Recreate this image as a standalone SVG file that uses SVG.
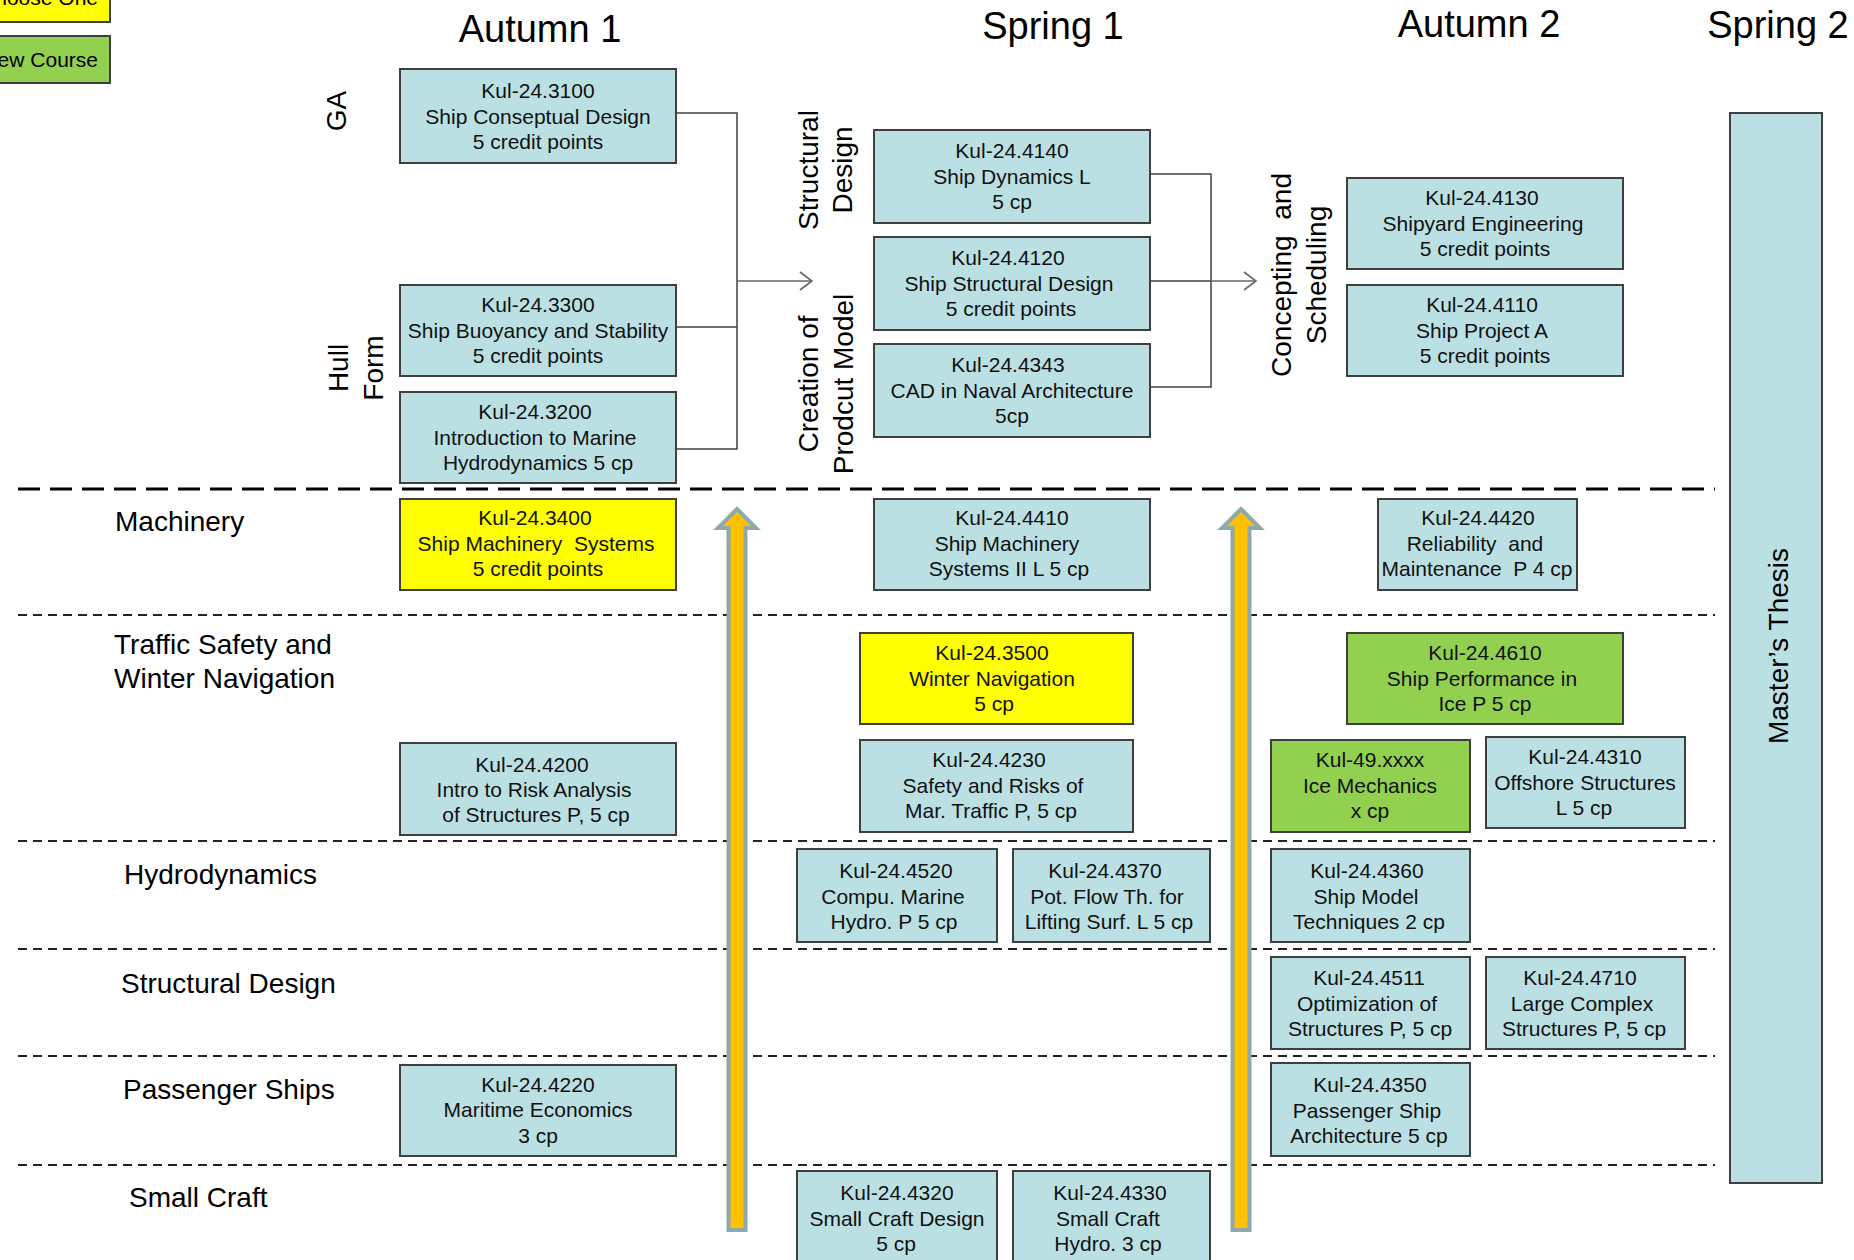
<svg xmlns="http://www.w3.org/2000/svg" width="1854" height="1260" viewBox="0 0 1854 1260">
<style>
text{font-family:"Liberation Sans",Arial,Helvetica,sans-serif;fill:#000}
.box{stroke:#3f3f3f;stroke-width:2}
.blue{fill:#BBE0E3}
.yel{fill:#FFFF00}
.grn{fill:#92D050}
.bt{font-size:21px;text-anchor:middle;fill:#111}
.hdr{font-size:38px;text-anchor:middle}
.row{font-size:28px}
.rot{font-size:28px;text-anchor:middle}
.conn{stroke:#404040;stroke-width:1.5;fill:none}
.link{stroke:#666;stroke-width:1.5;fill:none}
.thick{stroke:#000;stroke-width:3;stroke-dasharray:22 10}
.thin{stroke:#222;stroke-width:1.8;stroke-dasharray:9 6}
.bigarrow{fill:#FFC000;stroke:#8EA9AD;stroke-width:4;stroke-linejoin:miter}
</style>
<defs>
<marker id="chev" viewBox="0 0 14 20" refX="13" refY="10" markerWidth="14" markerHeight="20" markerUnits="userSpaceOnUse" orient="auto">
<path d="M1,1 L13,10 L1,19" fill="none" stroke="#666" stroke-width="1.6"/>
</marker>
</defs>
<rect width="1854" height="1260" fill="#fff"/>

<g id="legend">
<g id="legend-choose"><rect class="box yel" x="-4" y="-12" width="114" height="34"/><text x="98" y="5" font-size="21" text-anchor="end">Choose One</text></g>
<g id="legend-new"><rect class="box grn" x="-4" y="36" width="114" height="47"/><text x="98" y="67" font-size="21" text-anchor="end">New Course</text></g>
</g>

<g id="headers">
<text class="hdr" x="540" y="42">Autumn 1</text>
<text class="hdr" x="1053" y="39">Spring 1</text>
<text class="hdr" x="1479" y="37">Autumn 2</text>
<text class="hdr" x="1778" y="38">Spring 2</text>
</g>

<g id="separators">
<line class="thick" x1="18" y1="489" x2="1715" y2="489"/>
<line class="thin" x1="18" y1="615" x2="1715" y2="615"/>
<line class="thin" x1="18" y1="841" x2="1715" y2="841"/>
<line class="thin" x1="18" y1="949" x2="1715" y2="949"/>
<line class="thin" x1="18" y1="1056" x2="1715" y2="1056"/>
<line class="thin" x1="18" y1="1165" x2="1715" y2="1165"/>
</g>

<g id="row-labels">
<text class="row" x="115" y="531">Machinery</text>
<text class="row" x="114" y="654">Traffic Safety and</text>
<text class="row" x="114" y="688">Winter Navigation</text>
<text class="row" x="124" y="884">Hydrodynamics</text>
<text class="row" x="121" y="993">Structural Design</text>
<text class="row" x="123" y="1099">Passenger Ships</text>
<text class="row" x="129" y="1207">Small Craft</text>
</g>

<g id="group-labels">
<text class="rot" transform="translate(346,111) rotate(-90)">GA</text>
<text class="rot" transform="translate(348,368) rotate(-90)">Hull</text>
<text class="rot" transform="translate(383,368) rotate(-90)">Form</text>
<text class="rot" transform="translate(818,170) rotate(-90)">Structural</text>
<text class="rot" transform="translate(852,170) rotate(-90)">Design</text>
<text class="rot" transform="translate(818,384) rotate(-90)">Creation of</text>
<text class="rot" transform="translate(853,384) rotate(-90)">Prodcut Model</text>
<text class="rot" transform="translate(1291,275) rotate(-90)" xml:space="preserve">Concepting  and</text>
<text class="rot" transform="translate(1326,275) rotate(-90)">Scheduling</text>
</g>

<g id="connectors">
<polyline class="conn" points="676,113 737,113 737,449 676,449"/>
<line class="conn" x1="676" y1="327" x2="737" y2="327"/>
<line class="link" x1="737" y1="281" x2="812" y2="281" marker-end="url(#chev)"/>
<polyline class="conn" points="1150,174 1211,174 1211,387 1150,387"/>
<line class="conn" x1="1150" y1="281" x2="1211" y2="281"/>
<line class="link" x1="1211" y1="281" x2="1256" y2="281" marker-end="url(#chev)"/>
</g>

<g id="kul-3100"><rect class="box blue" x="400" y="69" width="276" height="94"/><text class="bt" x="538" y="98">Kul-24.3100</text><text class="bt" x="538" y="124">Ship Conseptual Design</text><text class="bt" x="538" y="149">5 credit points</text></g>
<g id="kul-3300"><rect class="box blue" x="400" y="285" width="276" height="91"/><text class="bt" x="538" y="312">Kul-24.3300</text><text class="bt" x="538" y="338">Ship Buoyancy and Stability</text><text class="bt" x="538" y="363">5 credit points</text></g>
<g id="kul-3200"><rect class="box blue" x="400" y="392" width="276" height="91"/><text class="bt" x="535" y="419">Kul-24.3200</text><text class="bt" x="535" y="445">Introduction to Marine</text><text class="bt" x="538" y="470">Hydrodynamics 5 cp</text></g>
<g id="kul-3400"><rect class="box yel" x="400" y="499" width="276" height="91"/><text class="bt" x="535" y="525">Kul-24.3400</text><text class="bt" x="536" y="551" xml:space="preserve">Ship Machinery  Systems</text><text class="bt" x="538" y="576">5 credit points</text></g>
<g id="kul-4200"><rect class="box blue" x="400" y="743" width="276" height="92"/><text class="bt" x="532" y="772">Kul-24.4200</text><text class="bt" x="534" y="797">Intro to Risk Analysis</text><text class="bt" x="536" y="822">of Structures P, 5 cp</text></g>
<g id="kul-4220"><rect class="box blue" x="400" y="1065" width="276" height="91"/><text class="bt" x="538" y="1092">Kul-24.4220</text><text class="bt" x="538" y="1117">Maritime Economics</text><text class="bt" x="538" y="1143">3 cp</text></g>

<g id="kul-4140"><rect class="box blue" x="874" y="130" width="276" height="93"/><text class="bt" x="1012" y="158">Kul-24.4140</text><text class="bt" x="1012" y="184">Ship Dynamics L</text><text class="bt" x="1012" y="209">5 cp</text></g>
<g id="kul-4120"><rect class="box blue" x="874" y="237" width="276" height="93"/><text class="bt" x="1008" y="265">Kul-24.4120</text><text class="bt" x="1009" y="291">Ship Structural Design</text><text class="bt" x="1011" y="316">5 credit points</text></g>
<g id="kul-4343"><rect class="box blue" x="874" y="344" width="276" height="93"/><text class="bt" x="1008" y="372">Kul-24.4343</text><text class="bt" x="1012" y="398">CAD in Naval Architecture</text><text class="bt" x="1012" y="423">5cp</text></g>
<g id="kul-4410"><rect class="box blue" x="874" y="499" width="276" height="91"/><text class="bt" x="1012" y="525">Kul-24.4410</text><text class="bt" x="1007" y="551">Ship Machinery</text><text class="bt" x="1009" y="576">Systems II L 5 cp</text></g>
<g id="kul-3500"><rect class="box yel" x="860" y="633" width="273" height="91"/><text class="bt" x="992" y="660">Kul-24.3500</text><text class="bt" x="992" y="686">Winter Navigation</text><text class="bt" x="994" y="711">5 cp</text></g>
<g id="kul-4230"><rect class="box blue" x="860" y="740" width="273" height="92"/><text class="bt" x="989" y="767">Kul-24.4230</text><text class="bt" x="993" y="793">Safety and Risks of</text><text class="bt" x="991" y="818">Mar. Traffic P, 5 cp</text></g>
<g id="kul-4520"><rect class="box blue" x="797" y="849" width="200" height="93"/><text class="bt" x="896" y="878">Kul-24.4520</text><text class="bt" x="893" y="904">Compu. Marine</text><text class="bt" x="894" y="929">Hydro. P 5 cp</text></g>
<g id="kul-4370"><rect class="box blue" x="1013" y="849" width="197" height="93"/><text class="bt" x="1105" y="878">Kul-24.4370</text><text class="bt" x="1107" y="904">Pot. Flow Th. for</text><text class="bt" x="1109" y="929">Lifting Surf. L 5 cp</text></g>
<g id="kul-4320"><rect class="box blue" x="797" y="1171" width="200" height="100"/><text class="bt" x="897" y="1200">Kul-24.4320</text><text class="bt" x="897" y="1226">Small Craft Design</text><text class="bt" x="896" y="1251">5 cp</text></g>
<g id="kul-4330"><rect class="box blue" x="1013" y="1171" width="197" height="100"/><text class="bt" x="1110" y="1200">Kul-24.4330</text><text class="bt" x="1108" y="1226">Small Craft</text><text class="bt" x="1108" y="1251">Hydro. 3 cp</text></g>

<g id="kul-4130"><rect class="box blue" x="1347" y="178" width="276" height="91"/><text class="bt" x="1482" y="205">Kul-24.4130</text><text class="bt" x="1483" y="231">Shipyard Engineering</text><text class="bt" x="1485" y="256">5 credit points</text></g>
<g id="kul-4110"><rect class="box blue" x="1347" y="285" width="276" height="91"/><text class="bt" x="1482" y="312">Kul-24.4110</text><text class="bt" x="1482" y="338">Ship Project A</text><text class="bt" x="1485" y="363">5 credit points</text></g>
<g id="kul-4420"><rect class="box blue" x="1378" y="499" width="199" height="91"/><text class="bt" x="1478" y="525">Kul-24.4420</text><text class="bt" x="1475" y="551" xml:space="preserve">Reliability  and</text><text class="bt" x="1477" y="576" xml:space="preserve">Maintenance  P 4 cp</text></g>
<g id="kul-4610"><rect class="box grn" x="1347" y="633" width="276" height="91"/><text class="bt" x="1485" y="660">Kul-24.4610</text><text class="bt" x="1482" y="686">Ship Performance in</text><text class="bt" x="1485" y="711">Ice P 5 cp</text></g>
<g id="kul-49xxxx"><rect class="box grn" x="1271" y="740" width="199" height="92"/><text class="bt" x="1370" y="767">Kul-49.xxxx</text><text class="bt" x="1370" y="793">Ice Mechanics</text><text class="bt" x="1370" y="818">x cp</text></g>
<g id="kul-4310"><rect class="box blue" x="1486" y="737" width="199" height="91"/><text class="bt" x="1585" y="764">Kul-24.4310</text><text class="bt" x="1585" y="790">Offshore Structures</text><text class="bt" x="1584" y="815">L 5 cp</text></g>
<g id="kul-4360"><rect class="box blue" x="1271" y="849" width="199" height="93"/><text class="bt" x="1367" y="878">Kul-24.4360</text><text class="bt" x="1366" y="904">Ship Model</text><text class="bt" x="1369" y="929">Techniques 2 cp</text></g>
<g id="kul-4511"><rect class="box blue" x="1271" y="957" width="199" height="92"/><text class="bt" x="1369" y="985">Kul-24.4511</text><text class="bt" x="1367" y="1011">Optimization of</text><text class="bt" x="1370" y="1036">Structures P, 5 cp</text></g>
<g id="kul-4710"><rect class="box blue" x="1486" y="957" width="199" height="92"/><text class="bt" x="1580" y="985">Kul-24.4710</text><text class="bt" x="1582" y="1011">Large Complex</text><text class="bt" x="1584" y="1036">Structures P, 5 cp</text></g>
<g id="kul-4350"><rect class="box blue" x="1271" y="1063" width="199" height="93"/><text class="bt" x="1370" y="1092">Kul-24.4350</text><text class="bt" x="1367" y="1118">Passenger Ship</text><text class="bt" x="1369" y="1143">Architecture 5 cp</text></g>

<g id="masters-thesis"><rect class="box blue" x="1730" y="113" width="92" height="1070"/><text class="rot" transform="translate(1788,646) rotate(-90)">Master’s Thesis</text></g>

<g id="progress-arrows">
<polygon class="bigarrow" points="737,509 756,528 745.5,528 745.5,1230 728.5,1230 728.5,528 718,528"/>
<polygon class="bigarrow" points="1241,509 1260,528 1249.5,528 1249.5,1230 1232.5,1230 1232.5,528 1222,528"/>
</g>
</svg>
